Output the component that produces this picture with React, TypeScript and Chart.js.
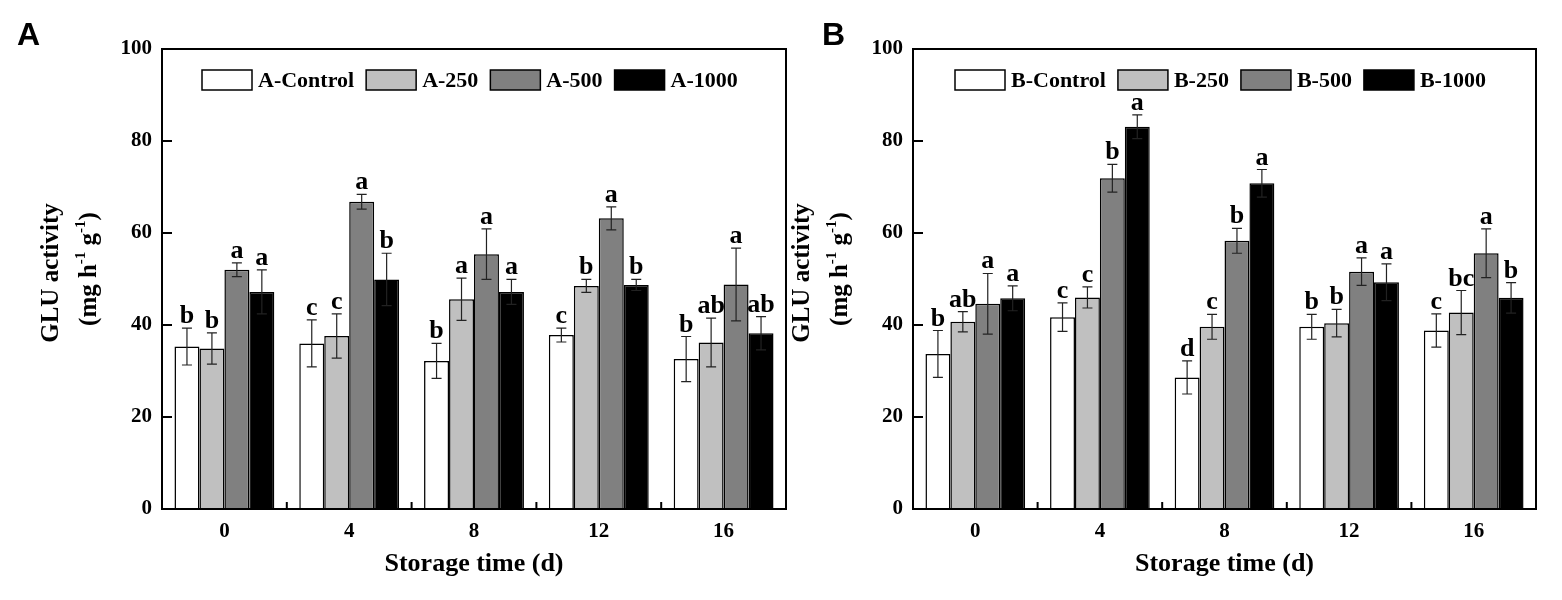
import React, { useEffect, useRef } from 'react';
import { Chart, registerables } from 'chart.js';

Chart.register(...registerables);

// ---------- data ----------
const categories = ['0', '4', '8', '12', '16'];

const seriesNamesA = ['A-Control', 'A-250', 'A-500', 'A-1000'];
const seriesNamesB = ['B-Control', 'B-250', 'B-500', 'B-1000'];

const aControl = [35.3, 36.0, 32.2, 37.8, 32.6];
const a250 = [34.9, 37.6, 45.6, 48.5, 36.2];
const a500 = [52.0, 66.8, 55.4, 63.2, 48.8];
const a1000 = [47.2, 49.9, 47.2, 48.7, 38.2];

const aControlErr = [4.0, 5.1, 3.8, 1.5, 4.9];
const a250Err = [3.4, 4.8, 4.6, 1.4, 5.3];
const a500Err = [1.5, 1.6, 5.5, 2.5, 7.9];
const a1000Err = [4.8, 5.7, 2.7, 1.2, 3.6];

const aControlLetters = ['b', 'c', 'b', 'c', 'b'];
const a250Letters = ['b', 'c', 'a', 'b', 'ab'];
const a500Letters = ['a', 'a', 'a', 'a', 'a'];
const a1000Letters = ['a', 'b', 'a', 'b', 'ab'];

const bControl = [33.7, 41.7, 28.6, 39.6, 38.8];
const b250 = [40.7, 46.0, 39.6, 40.4, 42.7];
const b500 = [44.6, 71.9, 58.3, 51.6, 55.6];
const b1000 = [45.8, 83.1, 70.8, 49.3, 45.9];

const bControlErr = [5.1, 3.1, 3.6, 2.7, 3.6];
const b250Err = [2.2, 2.3, 2.7, 3.0, 4.8];
const b500Err = [6.6, 3.0, 2.7, 3.0, 5.3];
const b1000Err = [2.7, 2.6, 3.0, 4.0, 3.3];

const bControlLetters = ['b', 'c', 'd', 'b', 'c'];
const b250Letters = ['ab', 'c', 'c', 'b', 'bc'];
const b500Letters = ['a', 'b', 'b', 'a', 'a'];
const b1000Letters = ['a', 'a', 'a', 'a', 'b'];

const yTicks = [0, 20, 40, 60, 80, 100];

// ---------- styles ----------
const SERIF = "'Liberation Serif', 'Times New Roman', serif";
const SANS = "'Liberation Sans', Arial, sans-serif";
const fills = ['#ffffff', '#c0c0c0', '#808080', '#000000'];

interface PanelProps {
  left: number; // page x of canvas
  width: number;
  yAxisWidth: number;
  padRight: number;
  names: string[];
  values: number[][];
  errors: number[][];
  letters: string[][];
  panelLabel: string;
  panelLabelX: number;
  titleX1: number;
  titleX2: number;
  legendX: number;
}

function Panel(p: PanelProps) {
  const ref = useRef<HTMLCanvasElement>(null);

  useEffect(() => {
    const canvas = ref.current;
    if (!canvas) return;

    const decor = {
      id: 'decor',
      afterDatasetsDraw(chart: any) {
        const { ctx, chartArea: ca, scales } = chart;
        const ys = scales.y;
        const xs = scales.x;
        ctx.save();

        // error bars + letters
        chart.data.datasets.forEach((ds: any, i: number) => {
          const meta = chart.getDatasetMeta(i);
          meta.data.forEach((bar: any, j: number) => {
            const v = ds.data[j];
            const e = p.errors[i][j];
            const yt = ys.getPixelForValue(v + e);
            const yb = ys.getPixelForValue(v - e);
            ctx.strokeStyle = '#222';
            ctx.lineWidth = 1.2;
            ctx.beginPath();
            ctx.moveTo(bar.x, yt);
            ctx.lineTo(bar.x, yb);
            ctx.moveTo(bar.x - 5, yt);
            ctx.lineTo(bar.x + 5, yt);
            ctx.moveTo(bar.x - 5, yb);
            ctx.lineTo(bar.x + 5, yb);
            ctx.stroke();

            ctx.fillStyle = '#000';
            ctx.font = `bold 26px ${SERIF}`;
            ctx.textAlign = 'center';
            ctx.textBaseline = 'alphabetic';
            ctx.fillText(p.letters[i][j], bar.x, yt - 5);
          });
        });

        // frame
        ctx.strokeStyle = '#000';
        ctx.lineWidth = 2;
        ctx.strokeRect(ca.left, ca.top, ca.right - ca.left, ca.bottom - ca.top);

        // y ticks inward
        ctx.lineWidth = 2;
        ctx.beginPath();
        yTicks.forEach((t) => {
          const py = ys.getPixelForValue(t);
          ctx.moveTo(ca.left, py);
          ctx.lineTo(ca.left + 10, py);
        });
        // x boundary ticks inward
        const n = categories.length;
        for (let k = 1; k < n; k++) {
          const px = (xs.getPixelForValue(k - 1) + xs.getPixelForValue(k)) / 2;
          ctx.moveTo(px, ca.bottom);
          ctx.lineTo(px, ca.bottom - 7);
        }
        ctx.stroke();

        // legend inside plot
        ctx.font = `bold 22px ${SERIF}`;
        ctx.textAlign = 'left';
        ctx.textBaseline = 'middle';
        let lx = p.legendX - p.left;
        const ly = 80;
        p.names.forEach((name, i) => {
          ctx.fillStyle = fills[i];
          ctx.fillRect(lx, ly - 10, 50, 20);
          ctx.strokeStyle = '#000';
          ctx.lineWidth = 1.5;
          ctx.strokeRect(lx, ly - 10, 50, 20);
          ctx.fillStyle = '#000';
          ctx.fillText(name, lx + 56, ly + 1);
          lx += 56 + ctx.measureText(name).width + 12;
        });

        // x title
        ctx.font = `bold 26px ${SERIF}`;
        ctx.textAlign = 'center';
        ctx.textBaseline = 'middle';
        ctx.fillText('Storage time (d)', (ca.left + ca.right) / 2, 564);

        // y title
        const drawRot = (cx: number, cy: number, segs: { t: string; sup?: boolean }[]) => {
          ctx.save();
          ctx.translate(cx, cy);
          ctx.rotate(-Math.PI / 2);
          ctx.textAlign = 'left';
          ctx.textBaseline = 'middle';
          const fontFor = (s: { sup?: boolean }) =>
            s.sup ? `bold 15px ${SERIF}` : `bold 25px ${SERIF}`;
          let total = 0;
          segs.forEach((s) => {
            ctx.font = fontFor(s);
            total += ctx.measureText(s.t).width;
          });
          let u = -total / 2;
          segs.forEach((s) => {
            ctx.font = fontFor(s);
            ctx.fillText(s.t, u, s.sup ? -9 : 0);
            u += ctx.measureText(s.t).width;
          });
          ctx.restore();
        };
        ctx.fillStyle = '#000';
        drawRot(p.titleX1 - p.left, 273, [{ t: 'GLU activity' }]);
        drawRot(p.titleX2 - p.left, 269, [
          { t: '(mg h' },
          { t: '-1', sup: true },
          { t: ' g' },
          { t: '-1', sup: true },
          { t: ')' },
        ]);

        // panel label
        ctx.font = `bold 32px ${SANS}`;
        ctx.textAlign = 'left';
        ctx.textBaseline = 'alphabetic';
        ctx.fillText(p.panelLabel, p.panelLabelX - p.left, 45);

        ctx.restore();
      },
    };

    const chart = new Chart(canvas, {
      type: 'bar',
      data: {
        labels: categories,
        datasets: p.values.map((vals, i) => ({
          label: p.names[i],
          data: vals,
          backgroundColor: fills[i],
          borderColor: '#000',
          borderWidth: 1.5,
          categoryPercentage: 0.8,
          barPercentage: 1.0,
        })),
      },
      options: {
        responsive: false,
        animation: false,
        devicePixelRatio: 1,
        layout: { padding: { top: 49, left: 0, right: p.padRight, bottom: 0 } },
        plugins: {
          legend: { display: false },
          tooltip: { enabled: false },
          title: { display: false },
        },
        events: [],
        scales: {
          x: {
            grid: { display: false, drawTicks: false },
            border: { display: false },
            ticks: {
              color: '#000',
              padding: 10,
              font: { family: SERIF, size: 21, weight: 'bold' },
            },
            afterFit: (s: any) => {
              s.height = 91;
            },
          },
          y: {
            min: 0,
            max: 100,
            grid: { display: false, drawTicks: false },
            border: { display: false },
            afterBuildTicks: (s: any) => {
              s.ticks = yTicks.map((v) => ({ value: v }));
            },
            ticks: {
              color: '#000',
              padding: 10,
              font: { family: SERIF, size: 21, weight: 'bold' },
            },
            afterFit: (s: any) => {
              s.width = p.yAxisWidth;
            },
          },
        },
      },
      plugins: [decor],
    } as any);

    return () => chart.destroy();
  }, []);

  return (
    <canvas
      ref={ref}
      width={p.width}
      height={600}
      style={{ position: 'absolute', left: p.left, top: 0, width: p.width, height: 600 }}
    />
  );
}

export default function App() {
  useEffect(() => {
    document.body.style.margin = '0';
  }, []);
  return (
    <div style={{ position: 'relative', width: 1562, height: 600, background: '#fff', overflow: 'hidden' }}>
      <Panel
        left={0}
        width={800}
        yAxisWidth={162}
        padRight={14}
        names={seriesNamesA}
        values={[aControl, a250, a500, a1000]}
        errors={[aControlErr, a250Err, a500Err, a1000Err]}
        letters={[aControlLetters, a250Letters, a500Letters, a1000Letters]}
        panelLabel="A"
        panelLabelX={17}
        titleX1={52}
        titleX2={90}
        legendX={202}
      />
      <Panel
        left={780}
        width={782}
        yAxisWidth={133}
        padRight={26}
        names={seriesNamesB}
        values={[bControl, b250, b500, b1000]}
        errors={[bControlErr, b250Err, b500Err, b1000Err]}
        letters={[bControlLetters, b250Letters, b500Letters, b1000Letters]}
        panelLabel="B"
        panelLabelX={822}
        titleX1={803}
        titleX2={841}
        legendX={955}
      />
    </div>
  );
}
